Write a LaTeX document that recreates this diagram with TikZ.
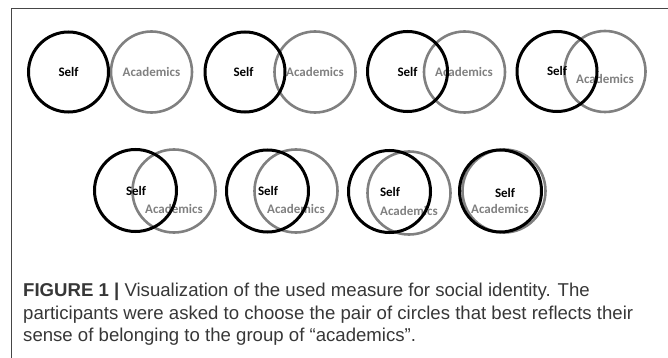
\documentclass[tikz,border=0pt]{standalone}
\usepackage{fontspec}
\setmainfont{Liberation Sans}
\newfontfamily\labelfont{Carlito}
\definecolor{framegray}{RGB}{70,70,70}
\definecolor{groupgray}{RGB}{128,128,128}
\definecolor{captiontext}{RGB}{55,55,55}
\begin{document}
\begin{tikzpicture}[x=1pt,y=-1pt,
  selfring/.style={circle,draw=black,line width=3pt,minimum size=#1,inner sep=0pt},
  groupring/.style={circle,draw=groupgray,line width=2.6pt,minimum size=#1,inner sep=0pt},
  selflabel/.style={font=\labelfont\bfseries\fontsize{13}{15}\selectfont,text=black,inner sep=0pt},
  grouplabel/.style={font=\labelfont\bfseries\fontsize{13}{15}\selectfont,text=groupgray,inner sep=0pt},
  caption/.style={font=\fontsize{18.6}{22.5}\selectfont,text=captiontext,align=left,inner sep=0pt,anchor=north west}]
\useasboundingbox (0,0) rectangle (668,358);
% frame: top rule and left rule
\coordinate (frameTL) at (11,8.5);
\coordinate (frameTR) at (668,8.5);
\coordinate (frameBL) at (11,358);
\draw[framegray,line width=1pt] (frameTR) -- (frameTL) -- (frameBL);

% outer rings of the group (drawn first)
\node[groupring=81pt] (g1) at (151.5,72) {};
\node[groupring=81pt] (g2) at (315,72) {};
\node[groupring=81pt] (g3) at (464.5,72) {};
\node[groupring=81pt] (g4) at (605,71.5) {};
\node[groupring=83pt] (g5) at (174,191) {};
\node[groupring=83pt] (g6) at (296,191) {};
\node[groupring=83pt] (g7) at (409,193) {};
\node[groupring=83pt] (g8) at (504,191) {};

% labels
\node[grouplabel] (a1) at (151.5,72) {Academics};
\node[grouplabel] (a2) at (315,72) {Academics};
\node[grouplabel] (a3) at (464,72) {Academics};
\node[grouplabel] (a4) at (605,79) {Academics};
\node[grouplabel] (a5) at (174,209) {Academics};
\node[grouplabel] (a6) at (296,209) {Academics};
\node[grouplabel] (a7) at (409,211) {Academics};
\node[grouplabel] (a8) at (500,209) {Academics};

\node[selflabel] (s1) at (68.5,72) {Self};
\node[selflabel] (s2) at (243.5,72) {Self};
\node[selflabel] (s3) at (407.5,72) {Self};
\node[selflabel] (s4) at (557,71) {Self};
\node[selflabel] (s5) at (136,191) {Self};
\node[selflabel] (s6) at (268,191) {Self};
\node[selflabel] (s7) at (390,192) {Self};
\node[selflabel] (s8) at (505,193) {Self};

% self rings on top
\node[selfring=80pt] (r1) at (68.5,72) {};
\node[selfring=80pt] (r2) at (245,72) {};
\node[selfring=80pt] (r3) at (407.5,71.5) {};
\node[selfring=80pt] (r4) at (557,71.5) {};
\node[selfring=82pt] (r5) at (135.5,190.5) {};
\node[selfring=82pt] (r6) at (267.5,191) {};
\node[selfring=82pt] (r7) at (389.5,191.5) {};
\node[selfring=82pt] (r8) at (500.5,191) {};

% caption
\node[caption] (cap) at (23,283) {\textbf{FIGURE 1 |} Visualization of the used measure for social identity. The\\
participants were asked to choose the pair of circles that best reflects their\\
sense of belonging to the group of “academics”.};
\end{tikzpicture}
\end{document}
